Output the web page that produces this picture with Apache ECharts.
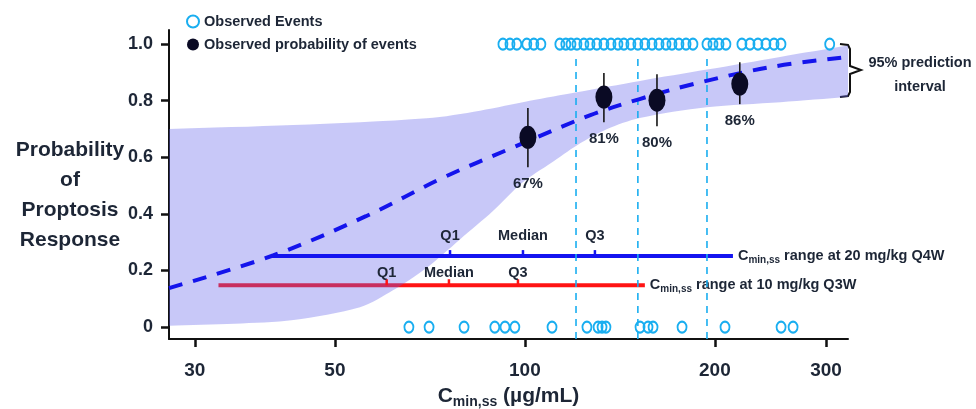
<!DOCTYPE html>
<html>
<head>
<meta charset="utf-8">
<script src="https://cdn.jsdelivr.net/npm/echarts@6/dist/echarts.min.js"></script>
<style>
html, body { margin: 0; padding: 0; background: #fff; }
#chart { width: 976px; height: 409px; }
</style>
</head>
<body>
<div id="chart"></div>
<script>
var FONT = '"Liberation Sans", Arial, sans-serif'
var TEXT = '#1d2636'

// individual patients: responders (plotted at 1) and non-responders (plotted at 0)
var eventsX = [92.3, 94.7, 97.1, 100.7, 103.3, 106.0, 113.6, 116.1, 118.3, 120.9, 124.0, 126.8, 130.0,
    133.4, 136.9, 140.4, 143.5, 147.2, 151.0, 154.9, 159.0, 163.1, 167.3, 171.0, 175.4, 180.0, 184.6,
    194.3, 198.6, 203.0, 208.2, 220.7, 227.3, 234.0, 240.9, 248.1, 254.5, 304]
var nonEventsX = [65.5, 70.5, 80.1, 89.6, 93.0, 96.4, 110.4, 125.4, 130.6, 132.5, 134.4, 152.2, 156.7,
    159.6, 177.4, 207.5, 254.6, 266.0]

// observed probability of response by exposure quartile
var probX = [101.1, 133.4, 161.9, 219]
var probY = [0.671, 0.813, 0.802, 0.859]
var probLow = [0.565, 0.724, 0.710, 0.788]
var probHigh = [0.774, 0.898, 0.894, 0.936]
var probLabels = ['67%', '81%', '80%', '86%']

// model prediction
var predX = [27.3, 40, 56, 74, 96, 127, 152, 185, 245, 325]
var predY = [0.138, 0.254, 0.392, 0.527, 0.636, 0.749, 0.806, 0.859, 0.919, 0.955]

// 95% prediction interval
var upperX = [27.3, 43, 69.9, 84.9, 101.8, 120.9, 152.1, 194.3, 253.6, 325]
var upperY = [0.70, 0.714, 0.738, 0.765, 0.80, 0.83, 0.87, 0.91, 0.955, 0.995]
var lowerX = [27.3, 34.7, 43, 54.8, 61.8, 69.9, 78.9, 89, 99, 110, 121, 135, 152, 194, 254, 325]
var lowerY = [0.005, 0.012, 0.025, 0.07, 0.13, 0.21, 0.31, 0.41, 0.51, 0.58, 0.643, 0.70, 0.739, 0.777, 0.795, 0.813]

// quartile cut points
var cutX = [120.5, 151.0, 194.3]

// Cmin,ss ranges
var quartileNames = ['Q1', 'Median', 'Q3']
var range20 = [39.7, 213.6]
var range20Q = [76.1, 99.3, 129.1]
var range20Y = 0.251
var range10 = [32.7, 154.9]
var range10Q = [60.4, 75.8, 97.5]
var range10Y = 0.148

var xTicks = [30, 50, 100, 200, 300]
var yTicks = [0, 0.2, 0.4, 0.6, 0.8, 1.0]

var chart = echarts.init(document.getElementById('chart'))

var subRich = {
    c: { fontSize: 14.5, fontWeight: 'bold', color: TEXT, fontFamily: FONT, lineHeight: 18 },
    s: { fontSize: 10, fontWeight: 'bold', color: TEXT, fontFamily: FONT, lineHeight: 11, verticalAlign: 'bottom' },
    t: { fontSize: 14.5, fontWeight: 'bold', color: TEXT, fontFamily: FONT, lineHeight: 18 },
}

function rangeSeries(range, y, color, dose, z) {
    return {
        type: 'line',
        name: dose,
        data: [[range[0], y], [range[1], y]],
        symbol: 'none',
        silent: true,
        z: z,
        lineStyle: { color: color, width: 4 },
        endLabel: {
            show: true,
            distance: 5,
            formatter: '{c|C}{s|min,ss}{t| range at ' + dose + '}',
            rich: subRich,
        },
    }
}

function quartileSeries(qs, y, color, offsetY) {
    return {
        type: 'scatter',
        data: qs.map(function (q) { return [q, y] }),
        symbol: 'rect',
        symbolSize: [2.5, 6],
        symbolOffset: [0, -3],
        itemStyle: { color: color, opacity: 1 },
        silent: true,
        z: 4,
        label: {
            show: true,
            position: 'top',
            distance: 4,
            offset: [0, offsetY],
            formatter: function (p) { return quartileNames[p.dataIndex] },
            fontSize: 14.5,
            fontWeight: 'bold',
            color: TEXT,
            fontFamily: FONT,
        },
    }
}

var series = []
series.push(rangeSeries(range10, range10Y, '#ff1414', '10 mg/kg Q3W', 1))
series.push({
    type: 'custom',
    name: '95% prediction interval',
    silent: true,
    z: 2,
    data: [[100, 0.5]],
    renderItem: function (params, api) {
        var pts = []
        var i
        // corner points doubled so the smoothing keeps the ends straight
        pts.push(api.coord([upperX[0], upperY[0]]))
        for (i = 0; i < upperX.length; i++) pts.push(api.coord([upperX[i], upperY[i]]))
        pts.push(api.coord([upperX[upperX.length - 1], upperY[upperY.length - 1]]))
        pts.push(api.coord([lowerX[lowerX.length - 1], lowerY[lowerY.length - 1]]))
        for (i = lowerX.length - 1; i >= 0; i--) pts.push(api.coord([lowerX[i], lowerY[i]]))
        pts.push(api.coord([lowerX[0], lowerY[0]]))
        return {
            type: 'polygon',
            shape: { points: pts, smooth: 0.3 },
            style: { fill: 'rgba(96,96,236,0.35)' },
        }
    },
})
series.push(rangeSeries(range20, range20Y, '#1414f0', '20 mg/kg Q4W', 3))
series.push(quartileSeries(range20Q, range20Y, '#1414f0', -3))
series.push(quartileSeries(range10Q, range10Y, '#ff1414', 5))
cutX.forEach(function (x) {
    series.push({
        type: 'line',
        data: [[x, -0.042], [x, 0.96]],
        symbol: 'none',
        silent: true,
        z: 3,
        lineStyle: { color: '#19aef0', width: 1.6, type: [7, 6] },
    })
})
series.push({
    type: 'line',
    name: 'Prediction',
    data: predX.map(function (x, i) { return [x, predY[i]] }),
    smooth: 0.35,
    symbol: 'none',
    silent: true,
    z: 3,
    lineStyle: { color: '#1414ec', width: 4, type: [14, 11] },
})
series.push({
    type: 'custom',
    name: 'ci',
    silent: true,
    z: 4,
    data: probX.map(function (x, i) { return [x, probY[i], probLow[i], probHigh[i]] }),
    renderItem: function (params, api) {
        var mid = api.coord([api.value(0), api.value(1)])
        var lo = api.coord([api.value(0), api.value(2)])
        var hi = api.coord([api.value(0), api.value(3)])
        return {
            type: 'group',
            children: [
                { type: 'line', shape: { x1: mid[0], y1: hi[1], x2: mid[0], y2: lo[1] }, style: { stroke: '#151515', lineWidth: 1.6 } },
                {
                    type: 'text', x: mid[0], y: lo[1] + 9,
                    style: {
                        text: probLabels[params.dataIndex], align: 'center', verticalAlign: 'top',
                        fontSize: 15, fontWeight: 'bold', fontFamily: FONT, fill: TEXT,
                    },
                },
            ],
        }
    },
})
series.push({
    type: 'scatter',
    name: 'Observed probability of events',
    data: probX.map(function (x, i) { return [x, probY[i]] }),
    symbol: 'circle',
    symbolSize: [17, 23],
    itemStyle: { color: '#0a0a24', opacity: 1 },
    z: 5,
})
series.push({
    type: 'scatter',
    name: 'Observed Events',
    data: eventsX.map(function (x) { return [x, 1] }).concat(nonEventsX.map(function (x) { return [x, 0] })),
    symbol: 'circle',
    symbolSize: [9, 11],
    itemStyle: { color: 'rgba(255,255,255,0)', borderColor: '#19aef0', borderWidth: 2, opacity: 1 },
    z: 5,
})

var option = {
    animation: false,
    legend: {
        orient: 'vertical',
        left: 181,
        top: 8,
        itemWidth: 12,
        itemHeight: 12,
        itemGap: 6,
        data: ['Observed Events', 'Observed probability of events'],
        textStyle: { fontSize: 14.5, fontWeight: 'bold', color: TEXT, fontFamily: FONT, lineHeight: 17 },
    },
    grid: { left: 169, right: 128, top: 30, bottom: 70, containLabel: false, outerBoundsMode: 'none' },
    xAxis: {
        type: 'log',
        logBase: 10,
        min: 27.3,
        max: 325,
        splitLine: { show: false },
        axisLine: { show: true, onZero: false, lineStyle: { color: '#111', width: 2 } },
        axisTick: { show: true, customValues: xTicks, length: 8, lineStyle: { color: '#111', width: 2.5 } },
        axisLabel: { customValues: xTicks, margin: 22, fontSize: 19, fontWeight: 'bold', color: TEXT, fontFamily: FONT },
        name: '{c|C}{s|min,ss}{t| (µg/mL)}',
        nameLocation: 'middle',
        nameGap: 44,
        nameTextStyle: {
            rich: {
                c: { fontSize: 21, fontWeight: 'bold', color: TEXT, fontFamily: FONT, lineHeight: 26 },
                s: { fontSize: 14, fontWeight: 'bold', color: TEXT, fontFamily: FONT, lineHeight: 14, verticalAlign: 'bottom' },
                t: { fontSize: 21, fontWeight: 'bold', color: TEXT, fontFamily: FONT, lineHeight: 26 },
            },
        },
    },
    yAxis: {
        type: 'value',
        min: -0.042,
        max: 1.05,
        splitLine: { show: false },
        axisLine: { show: true, onZero: false, lineStyle: { color: '#111', width: 2 } },
        axisTick: { show: true, customValues: yTicks, length: 8, lineStyle: { color: '#111', width: 2.5 } },
        axisLabel: {
            customValues: yTicks,
            margin: 16,
            fontSize: 18,
            fontWeight: 'bold',
            color: TEXT,
            fontFamily: FONT,
            formatter: function (v) { return v === 0 ? '0' : v.toFixed(1) },
        },
    },
    graphic: [
        {
            type: 'text',
            x: 70,
            y: 195,
            style: {
                text: 'Probability\nof\nProptosis\nResponse',
                align: 'center',
                verticalAlign: 'middle',
                fontSize: 21,
                fontWeight: 'bold',
                fontFamily: FONT,
                lineHeight: 30,
                fill: TEXT,
            },
        },
        {
            type: 'polyline',
            shape: { points: [[840, 44], [848, 45], [850, 49], [850, 66], [861, 70], [850, 74], [850, 92], [848, 96], [840, 97]] },
            style: { stroke: '#111', lineWidth: 2, fill: null },
        },
        {
            type: 'text',
            x: 920,
            y: 75,
            style: {
                text: '95% prediction\ninterval',
                align: 'center',
                verticalAlign: 'middle',
                fontSize: 14.5,
                fontWeight: 'bold',
                fontFamily: FONT,
                lineHeight: 24,
                fill: TEXT,
            },
        },
    ],
    series: series,
}

chart.setOption(option)
</script>
</body>
</html>
